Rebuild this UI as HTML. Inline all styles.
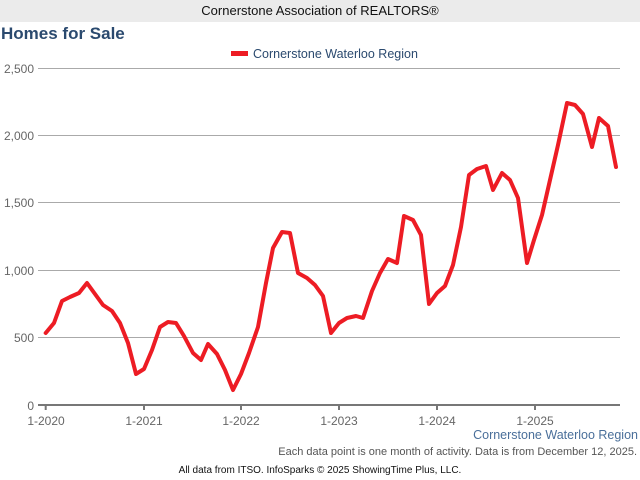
<!DOCTYPE html>
<html><head><meta charset="utf-8"><style>
body{margin:0;width:640px;height:480px;background:#fff;font-family:"Liberation Sans",sans-serif;overflow:hidden;position:relative}
.hdr{position:absolute;left:0;top:0;width:640px;height:22px;background:#ebebeb;text-align:center;font-size:13px;line-height:22px;color:#111}
.t{position:absolute}
</style></head><body>
<div class="hdr">Cornerstone Association of REALTORS®</div>
<div class="t" style="left:1px;top:24px;font-size:17px;font-weight:bold;color:#2b4a6f">Homes for Sale</div>
<svg width="640" height="480" style="position:absolute;left:0;top:0">
<rect x="231" y="51" width="17" height="5" fill="#ed1c24"/>
<text x="253" y="58" font-size="12.5" fill="#2b4a6f" font-family="Liberation Sans">Cornerstone Waterloo Region</text>
<g stroke="#aaa" stroke-width="1">
<line x1="38" x2="620" y1="68.5" y2="68.5"/>
<line x1="38" x2="620" y1="135.5" y2="135.5"/>
<line x1="38" x2="620" y1="202.5" y2="202.5"/>
<line x1="38" x2="620" y1="270.5" y2="270.5"/>
<line x1="38" x2="620" y1="337.5" y2="337.5"/>
</g>
<line x1="38" x2="620" y1="405" y2="405" stroke="#777" stroke-width="2"/>
<g stroke="#777" stroke-width="2">
<line x1="45.7" x2="45.7" y1="405" y2="410"/><line x1="144" x2="144" y1="405" y2="410"/>
<line x1="241" x2="241" y1="405" y2="410"/><line x1="339" x2="339" y1="405" y2="410"/>
<line x1="437" x2="437" y1="405" y2="410"/><line x1="535" x2="535" y1="405" y2="410"/>
</g>
<g font-size="12" fill="#666" font-family="Liberation Sans" text-anchor="end">
<text x="34" y="73">2,500</text><text x="34" y="140">2,000</text><text x="34" y="207">1,500</text>
<text x="34" y="275">1,000</text><text x="34" y="342">500</text><text x="34" y="410">0</text>
</g>
<g font-size="12" fill="#666" font-family="Liberation Sans" text-anchor="middle">
<text x="46" y="425">1-2020</text><text x="144" y="425">1-2021</text><text x="241" y="425">1-2022</text>
<text x="339" y="425">1-2023</text><text x="437" y="425">1-2024</text><text x="535" y="425">1-2025</text>
</g>
<polyline fill="none" stroke="#ed1c24" stroke-width="4" stroke-linejoin="round" stroke-linecap="round" points="45.7,333 54,323 62,301 70,297 79,293 87,283 95,294 103,305 112,311 120,323 128,343 136,374 144,369 152,350 160,327 168,322 176,323 184,336 193,353 201,360 208,344 217,354 225,370 233,390 241,374 249,353 258,327 266,283 273,248 282,232 290,233 298,273 307,278 315,285 323,296 331,333 339,323 347,318 356,316 363,318 372,291 380,273 388,259 397,263 404,216 413,220 421,235 429,304 437,293 445,286 453,265 461,227 469,175 477,169 486,166 493,190 502,173 510,180 518,198 527,263 534,240 542,215 550,180 558,145 567,103 575,105 583,114 592,147 599,118 608,126 616,167"/>
<text x="638" y="439" font-size="12.5" fill="#4a6f9a" text-anchor="end" font-family="Liberation Sans">Cornerstone Waterloo Region</text>
<text x="637" y="455" font-size="11" fill="#555" text-anchor="end" font-family="Liberation Sans">Each data point is one month of activity. Data is from December 12, 2025.</text>
<text x="320" y="473" font-size="10" fill="#111" text-anchor="middle" font-family="Liberation Sans">All data from ITSO. InfoSparks © 2025 ShowingTime Plus, LLC.</text>
</svg>
</body></html>
